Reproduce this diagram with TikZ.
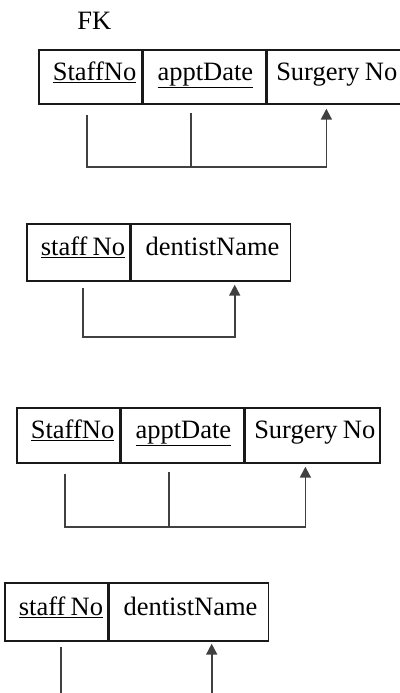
\documentclass[tikz,border=0pt]{standalone}
\usepackage{fontspec}
\setmainfont{Liberation Serif}
\usetikzlibrary{positioning,arrows.meta}

\def\padx{14pt}
\newcommand{\wsp}{\hspace{0.2em}}
\begin{document}
\begin{tikzpicture}[x=1pt,y=1pt]
  \tikzset{CellStyle/.style={%
      draw=black!90, line width=1.7pt, rectangle, anchor=north west,
      inner xsep=0pt, inner ysep=0pt, text width=#1, align=left,
      minimum height=56pt, text height=0.8em, text depth=0.15em,
      font=\fontsize{26.5}{30}\selectfont,
      execute at begin node={\hspace*{\padx}}},
    CellPad/.code={\def\padx{#1}},
    FdLine/.style={draw=black!75, line width=1.8pt},
    FdArrow/.style={FdLine, -{Triangle[width=11pt,length=11pt]}}
  }
  \useasboundingbox (0,0) rectangle (399,-693);
  % staff, date -> surgery
  \node[CellStyle=103pt, minimum height=54pt] (sA1) at (38,-49) {\underline{StaffNo}};
  \node[CellStyle=122pt, minimum height=54pt, right=0pt of sA1] (sB1) {\underline{apptDate}};
  \node[CellStyle=135pt, minimum height=54pt, CellPad=9pt, right=0pt of sB1] (sC1) {Surgery\wsp No};
  \node[anchor=base, font=\fontsize{26.5}{30}\selectfont, inner sep=0pt] (fk)
    at ([xshift=4pt,yshift=19pt]sA1.north) {FK};
  \draw[FdArrow] ([xshift=49pt,yshift=-10pt]sA1.south west) -- ++(0,-52) coordinate (j1)
    -| ([xshift=60pt,yshift=-4pt]sC1.south west);
  \draw[FdLine] ([xshift=48pt,yshift=-8pt]sB1.south west) -- ([xshift=48pt]sB1.south west |- j1);
  % staff -> dentist
  \node[CellStyle=103pt, minimum height=57pt] (sA2) at (26,-223) {\underline{staff\wsp No}};
  \node[CellStyle=159pt, minimum height=57pt, right=0pt of sA2] (sB2) {dentistName};
  \draw[FdArrow] ([xshift=57pt,yshift=-6pt]sA2.south west) -- ++(0,-49)
    -| ([xshift=104pt,yshift=-3pt]sB2.south west);
  % staff, date -> surgery
  \node[CellStyle=103pt, minimum height=55pt] (sA3) at (16,-407) {\underline{StaffNo}};
  \node[CellStyle=122pt, minimum height=55pt, right=0pt of sA3] (sB3) {\underline{apptDate}};
  \node[CellStyle=135pt, minimum height=55pt, CellPad=9pt, right=0pt of sB3] (sC3) {Surgery\wsp No};
  \draw[FdArrow] ([xshift=49pt,yshift=-10pt]sA3.south west) -- ++(0,-53) coordinate (j3)
    -| ([xshift=61pt,yshift=-3pt]sC3.south west);
  \draw[FdLine] ([xshift=48pt,yshift=-8pt]sB3.south west) -- ([xshift=48pt]sB3.south west |- j3);
  % staff -> dentist
  \node[CellStyle=103pt, minimum height=58pt] (sA4) at (4,-582) {\underline{staff\wsp No}};
  \node[CellStyle=159pt, minimum height=58pt, right=0pt of sA4] (sB4) {dentistName};
  \coordinate (e4) at (0,-693);
  \draw[FdLine] ([xshift=57pt,yshift=-5pt]sA4.south west) -- ([xshift=57pt]sA4.south west |- e4);
  \draw[FdArrow] ([xshift=103pt]sB4.south west |- e4) -- ([xshift=103pt,yshift=-2pt]sB4.south west);
\end{tikzpicture}
\end{document}
